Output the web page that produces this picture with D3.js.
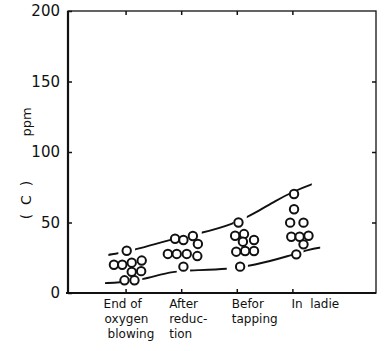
<!DOCTYPE html>
<html>
<head>
<meta charset="utf-8">
<script src="https://cdn.jsdelivr.net/npm/d3@7"></script>
<style>
  html, body { margin: 0; padding: 0; background: #fff; }
  svg { display: block; }
  text { font-family: "DejaVu Sans", sans-serif; fill: #111; }
</style>
</head>
<body>
<svg id="chart" width="384" height="351"></svg>
<script>
// ---- data ----
const categories = [
  ["End of", "oxygen", "blowing"],
  ["After", "reduc-", "tion"],
  ["Befor", "tapping"],
  ["In  ladie"]
];
const yTicks = [0, 50, 100, 150, 200];
// measured points: position along category axis (category index 1..4 plus scatter) and carbon ppm
const pointX = [
  1.02, 0.79, 0.94, 1.11, 1.29, 1.11, 1.28, 0.98, 1.16,
  1.89, 2.04, 2.21, 2.30, 1.76, 1.92, 2.10, 2.29, 2.04,
  3.03, 2.97, 3.13, 3.11, 3.31, 2.99, 3.15, 3.31, 3.06,
  4.03, 4.03, 3.96, 4.20, 3.98, 4.13, 4.29, 4.20, 4.07
];
const pointC = [
  30, 20, 20, 21.5, 23, 15, 15.5, 9, 9,
  38.5, 37.6, 40.4, 34.8, 27.7, 27.7, 27.7, 26.2, 18.7,
  50, 40.6, 41.8, 36.4, 37.6, 29.3, 29.8, 29.8, 18.7,
  70.2, 59.4, 49.9, 49.9, 39.9, 39.9, 40.6, 34.5, 27.4
];
// upper and lower envelope curves
const upperX = [0.60, 0.69, 1.17, 1.86, 2.37, 2.94, 3.30, 3.70, 4.02, 4.35, 4.45];
const upperC = [26.5, 27, 30.5, 38.5, 42.5, 49, 56, 65.5, 72, 77.3, 78];
const lowerX = [0.55, 0.63, 1.00, 1.40, 1.85, 2.30, 2.82, 3.30, 3.96, 4.30, 4.50, 4.60];
const lowerC = [6.9, 7, 7.6, 10.5, 15.5, 16.2, 16.9, 19.5, 26.5, 31, 32.2, 32.5];
// dash segments (visible stretches along the category axis)
const upperDash = [[0.69, 0.87], [1.17, 1.86], [2.37, 2.94], [3.18, 4.35]];
const lowerDash = [[0.63, 0.90], [1.30, 1.92], [2.16, 2.82], [3.20, 4.02], [4.20, 4.50]];

// ---- layout ----
const svg = d3.select("#chart");
const L = 68, R = 376, T = 11, B = 293;
const x = d3.scaleLinear().domain([-0.036, 5.504]).range([L, R]);
const y = d3.scaleLinear().domain([0, 200]).range([B, T]);

// frame
svg.append("rect").attr("x", L).attr("y", T).attr("width", R - L).attr("height", B - T)
  .attr("fill", "none").attr("stroke", "#111").attr("stroke-width", 1.3);
svg.append("line").attr("x1", L).attr("x2", L).attr("y1", T).attr("y2", B)
  .attr("stroke", "#111").attr("stroke-width", 2.2);
svg.append("line").attr("x1", L - 2).attr("x2", R).attr("y1", B).attr("y2", B)
  .attr("stroke", "#111").attr("stroke-width", 2.2);

// y axis (left) with inward ticks
const yAxis = d3.axisLeft(y).tickValues(yTicks).tickSizeInner(-4).tickSizeOuter(0).tickPadding(8);
const gy = svg.append("g").attr("transform", `translate(${L},0)`).call(yAxis);
gy.select(".domain").remove();
gy.selectAll(".tick line").attr("stroke", "#111").attr("stroke-width", 1.5);
gy.selectAll(".tick text").attr("font-size", 15).attr("fill", "#111")
  .attr("font-family", "DejaVu Sans, sans-serif");
// right axis inward ticks
const gr = svg.append("g").attr("transform", `translate(${R},0)`)
  .call(d3.axisRight(y).tickValues(yTicks.slice(1, 4)).tickSize(-4).tickFormat(""));
gr.select(".domain").remove();
gr.selectAll(".tick line").attr("stroke", "#111").attr("stroke-width", 1.5);

// x axis ticks (bottom and top, inward)
const catIdx = categories.map((c, i) => i + 1);
const gb = svg.append("g").attr("transform", `translate(0,${B})`)
  .call(d3.axisBottom(x).tickValues(catIdx).tickSize(-4).tickFormat(""));
gb.select(".domain").remove();
gb.selectAll(".tick line").attr("stroke", "#111").attr("stroke-width", 1.5);
const gt = svg.append("g").attr("transform", `translate(0,${T})`)
  .call(d3.axisTop(x).tickValues(catIdx).tickSize(-4).tickFormat(""));
gt.select(".domain").remove();
gt.selectAll(".tick line").attr("stroke", "#111").attr("stroke-width", 1.5);

// category labels
const labelShift = [-22, -12, -5, -1];
categories.forEach((lines, i) => {
  const t = svg.append("text")
    .attr("x", x(i + 1) + labelShift[i])
    .attr("y", 308)
    .attr("font-size", 12)
    .attr("text-anchor", "start");
  lines.forEach((s, j) => {
    t.append("tspan").attr("x", x(i + 1) + labelShift[i] + (i === 0 ? [0, 1, 4][j] : 0))
      .attr("dy", j === 0 ? 0 : 15).attr("xml:space", "preserve").text(s);
  });
});

// y label
svg.append("text").attr("transform", "translate(31,200) rotate(-90)")
  .attr("text-anchor", "middle").attr("font-size", 14)
  .attr("xml:space", "preserve").text("(  C  )");
svg.append("text").attr("transform", "translate(31,122) rotate(-90)")
  .attr("text-anchor", "middle").attr("font-size", 13).text("ppm");

// envelope curves, drawn in dashed stretches via clipping
const line = d3.line().x(d => x(d[0])).y(d => y(d[1])).curve(d3.curveBasis);
const defs = svg.append("defs");
function drawCurve(xs, cs, dashes, name) {
  const pts = xs.map((v, i) => [v, cs[i]]);
  dashes.forEach((dseg, k) => {
    const id = `clip-${name}-${k}`;
    defs.append("clipPath").attr("id", id).append("rect")
      .attr("x", x(dseg[0])).attr("y", 0)
      .attr("width", x(dseg[1]) - x(dseg[0])).attr("height", 351);
    svg.append("path").attr("d", line(pts)).attr("fill", "none")
      .attr("stroke", "#111").attr("stroke-width", 1.9)
      .attr("clip-path", `url(#${id})`);
  });
}
drawCurve(upperX, upperC, upperDash, "up");
drawCurve(lowerX, lowerC, lowerDash, "lo");

// data points
svg.append("g").selectAll("circle").data(pointX.map((v, i) => [v, pointC[i]]))
  .join("circle")
  .attr("cx", d => x(d[0])).attr("cy", d => y(d[1])).attr("r", 4.2)
  .attr("fill", "#fff").attr("stroke", "#111").attr("stroke-width", 2);
</script>
</body>
</html>
